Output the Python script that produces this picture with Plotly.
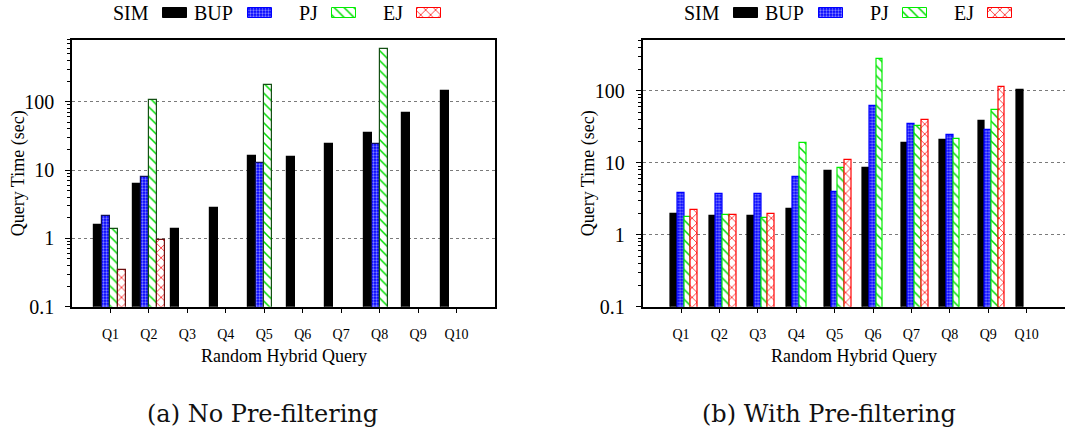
import plotly.graph_objects as go

# ---- data -------------------------------------------------------------
queries = ["Q1", "Q2", "Q3", "Q4", "Q5", "Q6", "Q7", "Q8", "Q9", "Q10"]
series = ["SIM", "BUP", "PJ", "EJ"]

# (a) No Pre-filtering: query time in seconds
a_sim = [1.56, 6.25, 1.39, 2.79, 16.1, 15.7, 24.4, 34.6, 67.9, 144]
a_bup = [2.1, 7.9, None, None, 12.6, None, None, 23.9, None, None]
a_pj = [1.36, 105, None, None, 174, None, None, 587, None, None]
a_ej = [0.35, 0.95, None, None, None, None, None, None, None, None]

# (b) With Pre-filtering: query time in seconds
b_sim = [1.92, 1.82, 1.82, 2.28, 7.67, 8.6, 19.0, 20.7, 38.8, 103]
b_bup = [3.8, 3.64, 3.64, 6.4, 4.0, 62.7, 35.2, 24.8, 28.5, None]
b_pj = [1.78, 1.86, 1.69, 19.2, 8.6, 282, 32.7, 21.8, 55.2, None]
b_ej = [2.18, 1.86, 1.94, None, 10.8, None, 40.1, None, 115, None]

y_ticks = [0.1, 1, 10, 100]
y_ticktext = ["0.1", "1", "10", "100"]

# ---- canvas / geometry -----------------------------------------------
W, H = 1065, 439
SERIF = "Liberation Serif"
CAPTION_FONT = "DejaVu Serif"


def fx(px):
    return px / W


def fy(py):
    return 1 - py / H


PLOT_TOP, PLOT_BOTTOM = 40, 306.7
LEFT_X = (72, 495)
RIGHT_X = (642.6, 1065)

# fill styles per series
fills = {
    "SIM": dict(color="black"),
    "BUP": dict(color="#0000ff",
                pattern=dict(shape=".", fillmode="overlay", bgcolor="#0000ff",
                             fgcolor="white", size=3, solidity=0.45)),
    "PJ": dict(color="#00ee00",
               pattern=dict(shape="\\", fillmode="replace", bgcolor="white",
                            fgcolor="#00dd00", size=7, solidity=0.22)),
    "EJ": dict(color="#ff0000",
               pattern=dict(shape="x", fillmode="replace", bgcolor="white",
                            fgcolor="#ff0000", size=7, solidity=0.2)),
}
edge_a = {"SIM": "black", "BUP": "#10105a", "PJ": "#145014", "EJ": "#6a1010"}
edge_b = {"SIM": "black", "BUP": "#0000ff", "PJ": "#00ee00", "EJ": "#ff0000"}

fig = go.Figure()

# panel (a): four bars centred on each query tick
wa = 0.208
for k, (name, vals) in enumerate(zip(series, [a_sim, a_bup, a_pj, a_ej])):
    m = dict(fills[name])
    m["line"] = dict(color=edge_a[name], width=1.2)
    fig.add_trace(go.Bar(x=queries, y=vals, name=name, marker=m,
                         width=wa, offset=(k - 2) * wa,
                         xaxis="x", yaxis="y", showlegend=False))

# panel (b): narrower bars, group shifted half a bar to the right
wb = 0.174
for k, (name, vals) in enumerate(zip(series, [b_sim, b_bup, b_pj, b_ej])):
    m = dict(fills[name])
    m["line"] = dict(color=edge_b[name], width=1.2)
    fig.add_trace(go.Bar(x=queries, y=vals, name=name, marker=m,
                         width=wb, offset=(k - 1.5) * wb,
                         xaxis="x2", yaxis="y2", showlegend=False))

# key swatches (text on the left, sample on the right) drawn on a pixel-unit axis
KEY_Y, KEY_H, KEY_W = 13.3, 10, 24
key_left = {"a": 163, "b": 734}
key_step = 84.7
annotations = []
for panel, x0 in key_left.items():
    for k, name in enumerate(series):
        left = x0 + k * key_step
        m = dict(fills[name])
        m["line"] = dict(color=edge_b[name], width=1)
        fig.add_trace(go.Bar(y=[KEY_Y], x=[KEY_W], base=[left], orientation="h",
                             width=KEY_H, marker=m, xaxis="x3", yaxis="y3",
                             showlegend=False, hoverinfo="skip"))
        annotations.append(dict(text=name, x=fx(left - 12.5), y=fy(KEY_Y),
                                xref="paper", yref="paper", xanchor="right",
                                yanchor="middle", showarrow=False,
                                font=dict(family=SERIF, size=20, color="black")))

minor_vals = [m * 10 ** e for e in range(-1, 3) for m in range(2, 10)]


def y_axis(domain, rng, mirror):
    return dict(type="log", domain=domain, range=rng, autorange=False,
                automargin=False,
                tickmode="array", tickvals=y_ticks, ticktext=y_ticktext,
                ticks="outside", ticklen=5, tickwidth=1, tickcolor="black",
                ticklabelstandoff=7,
                tickfont=dict(family=SERIF, size=20, color="black"),
                showgrid=True, gridcolor="#7a7a7a", griddash="dot", gridwidth=1,
                showline=True, linecolor="black", linewidth=1.5, mirror=mirror,
                zeroline=False,
                minor=dict(tickmode="array", tickvals=minor_vals, ticks="outside",
                           ticklen=3, tickcolor="black", showgrid=False))


def x_axis(domain, anchor, mirror):
    return dict(type="category", domain=domain, anchor=anchor,
                range=[-1, 10], autorange=False, automargin=False,
                ticks="outside", ticklen=5, tickcolor="black",
                ticklabelstandoff=9,
                tickfont=dict(family=SERIF, size=14, color="black"),
                showline=True, linecolor="black", linewidth=1.5, mirror=mirror,
                showgrid=False, zeroline=False)


ydom = [fy(PLOT_BOTTOM), fy(PLOT_TOP)]

# axis titles and sub-captions
for (x0, x1), ycenter_x, cap_x, cap in [
    (LEFT_X, 18, 262.5, "(a) No Pre-filtering"),
    (RIGHT_X, 588, 829, "(b) With Pre-filtering"),
]:
    annotations.append(dict(text="Random Hybrid Query", x=fx((x0 + x1) / 2),
                            y=fy(356), xref="paper", yref="paper",
                            xanchor="center", yanchor="middle", showarrow=False,
                            font=dict(family=SERIF, size=18, color="black")))
    annotations.append(dict(text="Query Time (sec)", x=fx(ycenter_x),
                            y=fy((PLOT_TOP + PLOT_BOTTOM) / 2), xref="paper",
                            yref="paper", xanchor="center", yanchor="middle",
                            textangle=-90, showarrow=False,
                            font=dict(family=SERIF, size=18, color="black")))
    annotations.append(dict(text=cap, x=fx(cap_x), y=fy(414), xref="paper",
                            yref="paper", xanchor="center", yanchor="middle",
                            showarrow=False,
                            font=dict(family=CAPTION_FONT, size=24, color="#111")))

fig.update_layout(
    width=W, height=H,
    margin=dict(l=0, r=0, t=0, b=0, pad=0, autoexpand=False),
    paper_bgcolor="white", plot_bgcolor="white",
    barmode="overlay", bargap=0,
    showlegend=False,
    xaxis=x_axis([fx(LEFT_X[0]), fx(LEFT_X[1])], "y", True),
    yaxis=y_axis(ydom, [-1, 2.903], True),
    xaxis2=x_axis([fx(RIGHT_X[0]), 1.0], "y2", True),
    yaxis2=dict(y_axis(ydom, [-1, 2.709], False), anchor="x2"),
    xaxis3=dict(domain=[0, 1], range=[0, W], autorange=False, visible=False,
                anchor="y3", automargin=False),
    yaxis3=dict(domain=[fy(25), 1], range=[25, 0], autorange=False,
                visible=False, anchor="x3", automargin=False),
    annotations=annotations,
)

fig.write_html("out.html")
